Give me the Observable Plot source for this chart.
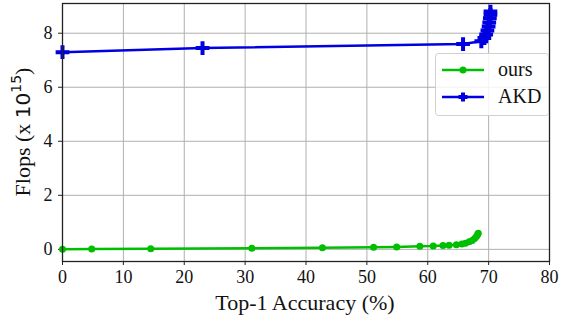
<!DOCTYPE html>
<html><head><meta charset="utf-8">
<script src="https://cdn.jsdelivr.net/npm/d3@7"></script>
<script src="https://cdn.jsdelivr.net/npm/@observablehq/plot@0.6"></script>
<style>
body{margin:0;background:#fff;}
#chart{position:relative;width:563px;height:320px;}
</style>
</head><body><div id="chart"></div>
<script>
const oursAcc = [0, 4.8, 14.5, 31.1, 42.7, 51.1, 54.9, 58.7, 60.9, 62.5, 63.5, 64.7, 65.6, 66.2, 66.8, 67.3, 67.7, 68.0, 68.2, 68.3];
const oursFlops = [0.0, 0.01, 0.02, 0.04, 0.06, 0.08, 0.09, 0.11, 0.12, 0.14, 0.15, 0.17, 0.2, 0.23, 0.28, 0.33, 0.4, 0.48, 0.55, 0.6];
const akdAcc = [0, 23, 65.8, 68.8, 69.3, 69.6, 69.8, 70.0, 70.1, 70.2, 70.3, 70.3];
const akdFlops = [7.3, 7.45, 7.6, 7.7, 7.82, 7.95, 8.1, 8.25, 8.4, 8.55, 8.68, 8.8];
const xTicks = [0, 10, 20, 30, 40, 50, 60, 70, 80];
const yTicks = [0, 2, 4, 6, 8];

const ours = oursAcc.map((a, i) => ({acc: a, flops: oursFlops[i]}));
const akd = akdAcc.map((a, i) => ({acc: a, flops: akdFlops[i]}));
const green = "#00bf00", blue = "#0000e0";
const font = "'Liberation Serif', 'Times New Roman', serif";

const plot = Plot.plot({
  width: 563, height: 320,
  marginLeft: 62, marginRight: 14, marginTop: 3, marginBottom: 59,
  style: {fontFamily: font, background: "#fff"},
  x: {domain: [0, 80]},
  y: {domain: [-0.45, 9.1]},
  marks: [
    Plot.gridX(xTicks, {stroke: "#b0b0b0", strokeOpacity: 1, strokeWidth: 1}),
    Plot.gridY(yTicks, {stroke: "#b0b0b0", strokeOpacity: 1, strokeWidth: 1}),
    Plot.axisX(xTicks, {tickSize: 4, tickPadding: 5, fontSize: 18, label: null, stroke: "#222", color: "#111"}),
    Plot.axisY(yTicks, {tickSize: 4, tickPadding: 6, fontSize: 18, label: null, stroke: "#222", color: "#111"}),
    Plot.line(ours, {x: "acc", y: "flops", stroke: green, strokeWidth: 2.5}),
    Plot.dot(ours, {x: "acc", y: "flops", fill: green, r: 3.5}),
    Plot.line(akd, {x: "acc", y: "flops", stroke: blue, strokeWidth: 2.5}),
    Plot.dot(akd, {x: "acc", y: "flops", symbol: "plus", stroke: blue, strokeWidth: 4, r: 4.5}),
    Plot.frame({stroke: "#222", strokeWidth: 1.3})
  ]
});
document.getElementById("chart").appendChild(plot);

const svg = d3.select(plot);
// x label
svg.append("text").attr("x", 305).attr("y", 310).attr("text-anchor", "middle")
  .attr("font-family", font).attr("font-size", 22).attr("fill", "#111").text("Top-1 Accuracy (%)");
// y label with superscript
const yl = svg.append("text").attr("transform", "translate(30,132) rotate(-90)").attr("text-anchor", "middle")
  .attr("font-family", font).attr("font-size", 22).attr("fill", "#111");
yl.append("tspan").text("Flops (x ");
yl.append("tspan").attr("font-family", "'DejaVu Sans', sans-serif").attr("font-size", 20).text("10");
yl.append("tspan").attr("font-family", "'DejaVu Sans', sans-serif").attr("font-size", 14).attr("dy", -9).text("15");
yl.append("tspan").attr("dy", 9).text(")");

// legend
const lg = svg.append("g");
lg.append("rect").attr("x", 435.5).attr("y", 53.5).attr("width", 113).attr("height", 62).attr("rx", 3)
  .attr("fill", "#fff").attr("fill-opacity", 0.85).attr("stroke", "#d0d0d0");
const items = [{name: "ours", color: green, y: 70, sym: "dot"}, {name: "AKD", color: blue, y: 97, sym: "plus"}];
items.forEach(it => {
  lg.append("line").attr("x1", 442).attr("x2", 484).attr("y1", it.y).attr("y2", it.y)
    .attr("stroke", it.color).attr("stroke-width", 2.5);
  if (it.sym === "dot") {
    lg.append("circle").attr("cx", 463).attr("cy", it.y).attr("r", 3.5).attr("fill", it.color);
  } else {
    lg.append("path").attr("d", `M458.5,${it.y}H467.5M463,${it.y-4.5}V${it.y+4.5}`)
      .attr("stroke", it.color).attr("stroke-width", 4);
  }
  lg.append("text").attr("x", 498).attr("y", it.y + 6).attr("text-anchor", "start")
    .attr("font-family", font).attr("font-size", 20)
    .attr("fill", "#111").text(it.name);
});
</script></body></html>
